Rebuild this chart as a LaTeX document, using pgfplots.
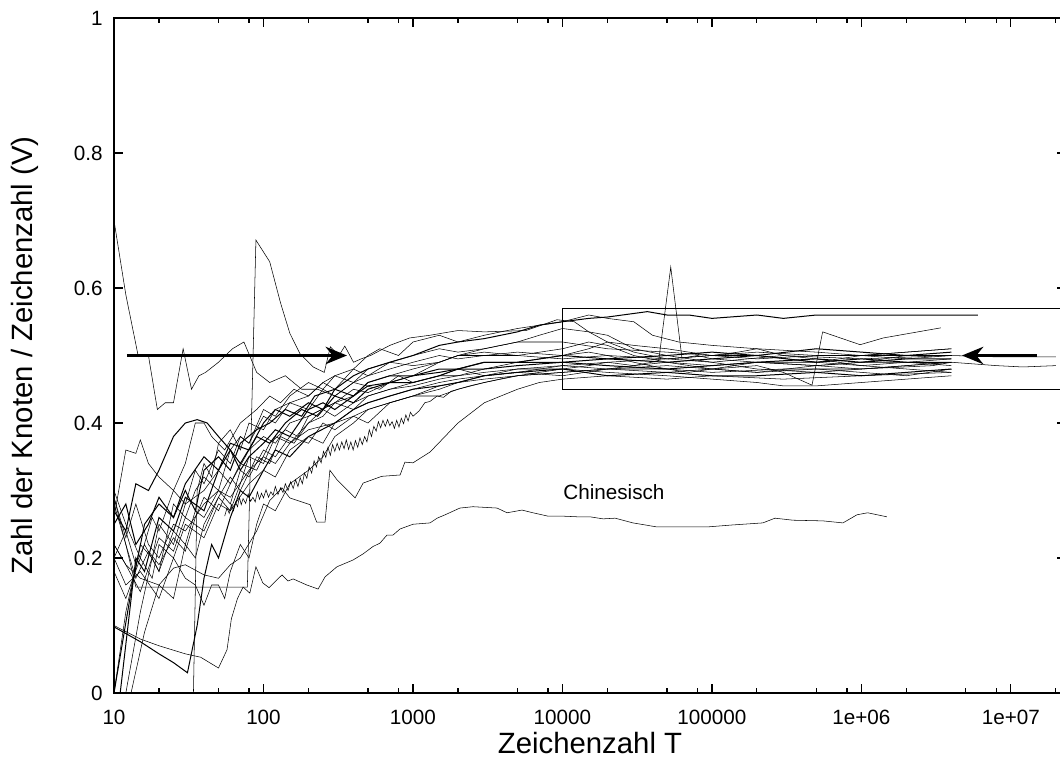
\documentclass[border=0pt]{standalone}
\usepackage{fontspec}
\setmainfont{Liberation Sans}
\usepackage{pgfplots}
\pgfplotsset{compat=1.18}
\usetikzlibrary{arrows.meta,calc}
\begin{document}
\begin{tikzpicture}
\begin{axis}[name=ax, at={(0,0)}, anchor=south west,
 scale only axis, width=714pt, height=506.25pt,
 xmode=log, xmin=10, xmax=2.335e7, ymin=0, ymax=1,
 xtick={10,100,1000,10000,100000,1000000,10000000},
 xticklabels={10,100,1000,10000,100000,1e+06,1e+07},
 minor xtick={20,50,80,200,500,800,2000,5000,8000,20000,50000,80000,200000,500000,800000,2000000,5000000,8000000,20000000},
 ytick={0,0.2,0.4,0.6,0.8,1},
 yticklabels={0,0.2,0.4,0.6,0.8,1},
 major tick length=7pt, minor tick length=3.5pt,
 tick style={black, line width=0.8pt},
 axis line style={line width=1pt},
 ticklabel style={font=\fontsize{15.5}{18}\selectfont},
 xticklabel style={yshift=-9pt},
 yticklabel style={xshift=-5pt},
 xlabel={Zeichenzahl T}, ylabel={Zahl der Knoten / Zeichenzahl (V)},
 label style={font=\fontsize{22}{26}\selectfont},
 xlabel style={at={(axis description cs:0.5,-0.074)}, anchor=center},
 ylabel style={at={(axis description cs:-0.0935,0.5)}, anchor=center},
 cycle list={{black,solid,line width=0.75pt,mark=none}},
]
% L1
\addplot coordinates {(10,0.70)(12,0.59)(14.5,0.50)(17,0.50)(19.5,0.42)(22,0.43)(25,0.43)(29,0.51)(33,0.45)(37,0.47)(41,0.475)(50,0.49)(62,0.51)(74,0.52)(90,0.475)(110,0.46)(140,0.47)(180,0.45)(230,0.45)(300,0.44)(400,0.46)(600,0.45)(800,0.47)(1000,0.46)(1500,0.47)(2000,0.48)(3000,0.47)(5000,0.475)(10000,0.47)(20000,0.48)(50000,0.48)(100000,0.475)(300000,0.48)(1000000,0.48)(3000000,0.485)(4000000,0.49)};
% L2 spike
\addplot coordinates {(10,0.29)(12,0.22)(14,0.157)(78,0.157)(89,0.671)(110,0.639)(130,0.578)(150,0.533)(175,0.503)(215,0.483)(255,0.475)(280,0.513)(320,0.50)(350,0.514)(400,0.49)(450,0.495)(520,0.50)(700,0.515)(950,0.526)(1300,0.53)(2000,0.537)(3000,0.535)(5700,0.537)(9200,0.553)(12000,0.55)(15000,0.535)(20000,0.52)(30000,0.505)(50000,0.495)(100000,0.50)(200000,0.50)(500000,0.49)(1000000,0.50)(4000000,0.50)};
% L3
\addplot coordinates {(10,0.27)(12,0.24)(14,0.31)(17,0.30)(20,0.33)(25,0.38)(30,0.40)(36,0.405)(42,0.40)(50,0.38)(60,0.36)(70,0.33)(80,0.35)(100,0.37)(120,0.39)(150,0.38)(200,0.42)(250,0.43)(300,0.42)(400,0.44)(500,0.455)(700,0.46)(1000,0.47)(1500,0.475)(2000,0.48)(3000,0.49)(5000,0.49)(10000,0.49)(20000,0.495)(50000,0.49)(100000,0.495)(200000,0.50)(500000,0.49)(1000000,0.495)(2000000,0.49)(4000000,0.49)};
% L4
\addplot coordinates {(10,0.22)(12,0.19)(15,0.17)(20,0.16)(25,0.185)(30,0.19)(40,0.175)(50,0.17)(60,0.19)(70,0.20)(90,0.24)(110,0.285)(133,0.304)(150,0.289)(205,0.279)(227,0.253)(258,0.253)(278,0.330)(310,0.316)(410,0.289)(464,0.311)(618,0.321)(820,0.323)(883,0.342)(1000,0.341)(1300,0.357)(2000,0.40)(3000,0.43)(5000,0.45)(7000,0.46)(10000,0.465)(20000,0.47)(50000,0.465)(100000,0.47)(300000,0.465)(1000000,0.47)(4000000,0.475)};
% L5 jagged
\addplot coordinates {(55,0.262)(57,0.274)(59,0.266)(61,0.279)(63,0.27)(65,0.283)(67,0.276)(69,0.29)(71,0.279)(73,0.288)(76,0.281)(79,0.295)(82,0.284)(85,0.29)(88,0.283)(91,0.298)(94,0.287)(97,0.296)(100,0.289)(104,0.301)(108,0.29)(112,0.298)(116,0.293)(120,0.306)(125,0.294)(130,0.304)(135,0.297)(140,0.31)(146,0.30)(152,0.313)(158,0.303)(164,0.316)(170,0.306)(176,0.319)(182,0.31)(188,0.326)(195,0.318)(202,0.335)(210,0.326)(218,0.344)(226,0.335)(234,0.35)(243,0.341)(252,0.358)(261,0.349)(270,0.364)(280,0.352)(290,0.368)(300,0.358)(311,0.37)(322,0.36)(334,0.372)(346,0.362)(358,0.375)(371,0.361)(384,0.372)(398,0.36)(412,0.374)(427,0.364)(442,0.378)(458,0.368)(475,0.38)(492,0.372)(510,0.39)(528,0.38)(547,0.395)(567,0.388)(587,0.402)(608,0.393)(630,0.404)(653,0.395)(676,0.405)(700,0.396)(725,0.402)(751,0.392)(778,0.404)(806,0.394)(835,0.407)(865,0.399)(896,0.412)(928,0.403)(961,0.416)(1000,0.41)(1100,0.418)(1200,0.43)(1300,0.432)(1450,0.44)(1600,0.438)(1800,0.447)(2000,0.45)(2400,0.455)(3000,0.46)(4000,0.466)(5000,0.47)(7000,0.475)(10000,0.48)(15000,0.485)(20000,0.49)(30000,0.485)(50000,0.49)(100000,0.485)(200000,0.49)(500000,0.485)(1000000,0.49)(2000000,0.49)(4000000,0.495)};
% L6
\addplot coordinates {(10,0)(12,0.12)(15,0.22)(18,0.20)(20,0.25)(25,0.22)(30,0.28)(40,0.30)(50,0.33)(60,0.31)(80,0.36)(100,0.38)(120,0.37)(150,0.40)(200,0.41)(300,0.43)(400,0.44)(500,0.46)(700,0.47)(1000,0.48)(1500,0.49)(2000,0.50)(3000,0.51)(5000,0.52)(7000,0.53)(10000,0.54)(15000,0.535)(20000,0.53)(30000,0.51)(50000,0.50)(100000,0.49)(200000,0.48)(500000,0.475)(1000000,0.48)(2000000,0.485)(4000000,0.49)};
% L7 top
\addplot coordinates {(10,0)(13,0.15)(16,0.25)(20,0.28)(25,0.26)(30,0.30)(35,0.27)(40,0.33)(50,0.35)(60,0.33)(70,0.37)(90,0.39)(110,0.40)(140,0.42)(180,0.41)(220,0.44)(300,0.45)(400,0.47)(500,0.48)(700,0.49)(1000,0.50)(1500,0.515)(2000,0.52)(3000,0.525)(5000,0.535)(7000,0.545)(10000,0.55)(15000,0.555)(20000,0.557)(37000,0.565)(50000,0.56)(70000,0.56)(100000,0.555)(200000,0.56)(300000,0.555)(500000,0.56)(1000000,0.56)(2000000,0.56)(6000000,0.56)};
% L8
\addplot coordinates {(10,0.30)(12,0.25)(15,0.20)(18,0.26)(20,0.24)(25,0.30)(30,0.28)(35,0.33)(40,0.31)(50,0.36)(60,0.34)(70,0.38)(80,0.37)(100,0.41)(120,0.40)(150,0.43)(200,0.44)(250,0.46)(300,0.45)(400,0.48)(500,0.50)(600,0.51)(800,0.50)(1000,0.52)(1500,0.53)(2000,0.52)(3000,0.53)(5000,0.54)(10000,0.55)(15000,0.56)(20000,0.555)(30000,0.55)(40000,0.53)(60000,0.52)(100000,0.515)(200000,0.51)(500000,0.505)(1000000,0.50)(2000000,0.505)(4000000,0.51)};
% L9
\addplot coordinates {(10,0.29)(12,0.23)(14,0.28)(17,0.22)(20,0.20)(25,0.25)(30,0.24)(40,0.28)(50,0.30)(60,0.29)(80,0.33)(100,0.35)(120,0.34)(150,0.37)(200,0.39)(300,0.40)(400,0.42)(500,0.43)(700,0.44)(1000,0.45)(1500,0.46)(2000,0.465)(3000,0.47)(5000,0.48)(10000,0.485)(20000,0.49)(50000,0.495)(100000,0.49)(300000,0.50)(1000000,0.495)(4000000,0.50)};
% L10
\addplot coordinates {(10,0.22)(12,0.19)(15,0.15)(20,0.23)(25,0.21)(30,0.26)(40,0.24)(50,0.29)(60,0.32)(70,0.30)(90,0.35)(110,0.34)(130,0.38)(160,0.37)(200,0.40)(250,0.41)(300,0.43)(400,0.42)(500,0.44)(700,0.45)(1000,0.46)(1500,0.47)(2000,0.47)(3000,0.48)(5000,0.49)(10000,0.50)(15000,0.505)(20000,0.50)(30000,0.49)(50000,0.48)(70000,0.475)(100000,0.48)(200000,0.485)(300000,0.475)(467000,0.456)(550000,0.535)(980000,0.516)(1400000,0.526)(3400000,0.541)};
% L11
\addplot coordinates {(10,0.25)(12,0.28)(14,0.22)(17,0.25)(20,0.29)(25,0.26)(30,0.31)(40,0.35)(50,0.33)(60,0.37)(80,0.36)(100,0.40)(120,0.42)(150,0.41)(200,0.43)(250,0.42)(300,0.45)(400,0.44)(500,0.46)(700,0.47)(1000,0.47)(1500,0.48)(2000,0.48)(3000,0.49)(5000,0.49)(10000,0.50)(20000,0.495)(50000,0.50)(100000,0.505)(200000,0.50)(500000,0.51)(1000000,0.505)(2000000,0.50)(4000000,0.505)};
% L12 long
\addplot coordinates {(10,0.20)(12,0.24)(14,0.19)(16,0.22)(20,0.18)(25,0.24)(30,0.22)(35,0.27)(40,0.26)(50,0.30)(60,0.28)(70,0.33)(80,0.32)(100,0.36)(120,0.35)(150,0.38)(200,0.37)(250,0.40)(300,0.39)(400,0.41)(500,0.42)(700,0.43)(1000,0.44)(1500,0.45)(2000,0.46)(3000,0.465)(5000,0.47)(10000,0.475)(20000,0.48)(50000,0.485)(100000,0.48)(200000,0.49)(500000,0.485)(1000000,0.49)(2000000,0.50)(4000000,0.50)(8000000,0.498)(20000000,0.498)};
% L13 spike 53000
\addplot coordinates {(10,0.18)(12,0.14)(15,0.20)(18,0.17)(20,0.22)(25,0.20)(30,0.25)(40,0.23)(50,0.28)(60,0.27)(80,0.31)(100,0.33)(120,0.32)(150,0.36)(200,0.38)(250,0.37)(300,0.40)(400,0.41)(500,0.40)(700,0.43)(1000,0.44)(1500,0.44)(2000,0.45)(3000,0.46)(5000,0.47)(10000,0.475)(20000,0.48)(30000,0.485)(44000,0.492)(53000,0.631)(63000,0.496)(80000,0.50)(100000,0.495)(200000,0.49)(500000,0.49)(1000000,0.485)(2000000,0.48)(4000000,0.475)};
% L14
\addplot coordinates {(10,0.28)(12,0.22)(14,0.17)(17,0.21)(20,0.19)(25,0.23)(30,0.21)(35,0.26)(40,0.29)(50,0.27)(60,0.31)(70,0.34)(90,0.33)(110,0.37)(140,0.39)(170,0.38)(200,0.41)(300,0.43)(400,0.45)(500,0.445)(700,0.46)(1000,0.47)(1500,0.49)(2000,0.50)(3000,0.505)(5000,0.50)(10000,0.51)(15000,0.52)(20000,0.515)(30000,0.50)(50000,0.49)(100000,0.48)(200000,0.475)(500000,0.48)(1000000,0.475)(2000000,0.47)(4000000,0.48)};
% L15
\addplot coordinates {(11,0)(14,0.20)(16,0.18)(20,0.26)(25,0.24)(30,0.29)(40,0.27)(50,0.33)(60,0.36)(70,0.34)(90,0.38)(110,0.37)(140,0.40)(180,0.42)(230,0.41)(300,0.44)(400,0.43)(500,0.45)(700,0.46)(1000,0.46)(1500,0.47)(2000,0.48)(3000,0.48)(5000,0.485)(10000,0.49)(20000,0.485)(50000,0.48)(100000,0.485)(200000,0.49)(500000,0.495)(1000000,0.49)(2000000,0.495)(4000000,0.495)};
% L16
\addplot coordinates {(12,0)(15,0.12)(18,0.20)(20,0.18)(25,0.28)(30,0.26)(35,0.30)(40,0.32)(50,0.30)(60,0.36)(70,0.38)(80,0.37)(100,0.42)(120,0.41)(150,0.44)(200,0.46)(250,0.45)(300,0.47)(400,0.48)(500,0.47)(700,0.49)(1000,0.50)(1500,0.51)(2000,0.505)(3000,0.51)(5000,0.52)(10000,0.52)(20000,0.51)(50000,0.505)(100000,0.50)(200000,0.505)(500000,0.50)(1000000,0.50)(2000000,0.505)(4000000,0.51)};
% L17
\addplot coordinates {(13,0)(16,0.09)(20,0.16)(25,0.14)(30,0.22)(35,0.20)(40,0.25)(50,0.29)(60,0.27)(70,0.31)(80,0.35)(100,0.34)(120,0.38)(150,0.37)(200,0.40)(250,0.42)(300,0.41)(400,0.43)(500,0.44)(700,0.45)(1000,0.455)(1500,0.465)(2000,0.47)(3000,0.475)(5000,0.48)(10000,0.48)(20000,0.475)(50000,0.47)(100000,0.465)(200000,0.46)(300000,0.455)(500000,0.455)(1000000,0.46)(2000000,0.465)(4000000,0.47)};
% L18
\addplot coordinates {(10,0.26)(12,0.36)(14,0.355)(15,0.375)(17,0.34)(20,0.32)(25,0.30)(30,0.34)(35,0.40)(40,0.40)(45,0.38)(55,0.36)(70,0.40)(90,0.42)(110,0.44)(130,0.43)(160,0.45)(200,0.44)(250,0.46)(300,0.47)(400,0.46)(500,0.48)(700,0.49)(1000,0.485)(1500,0.49)(2000,0.50)(3000,0.50)(5000,0.50)(10000,0.495)(20000,0.50)(50000,0.495)(100000,0.50)(200000,0.495)(500000,0.50)(1000000,0.50)(2000000,0.495)(4000000,0.50)};
% L19
\addplot coordinates {(10,0.098)(15,0.076)(20,0.058)(25,0.045)(31,0.030)(36,0.10)(40,0.17)(45,0.22)(50,0.20)(60,0.26)(70,0.30)(80,0.29)(100,0.33)(120,0.36)(150,0.35)(200,0.38)(300,0.40)(400,0.42)(500,0.43)(700,0.44)(1000,0.45)(1500,0.455)(2000,0.46)(3000,0.47)(5000,0.475)(10000,0.48)(20000,0.47)(50000,0.475)(100000,0.47)(200000,0.47)(500000,0.475)(1000000,0.47)(2000000,0.475)(4000000,0.48)};
% L20
\addplot coordinates {(34,0)(36,0.30)(40,0.34)(45,0.32)(50,0.37)(60,0.39)(70,0.36)(80,0.40)(100,0.39)(120,0.42)(150,0.43)(200,0.42)(250,0.45)(300,0.44)(400,0.46)(500,0.47)(700,0.48)(1000,0.49)(1500,0.50)(2000,0.495)(3000,0.50)(5000,0.505)(10000,0.50)(15000,0.51)(20000,0.52)(30000,0.515)(50000,0.51)(70000,0.505)(100000,0.50)(150000,0.505)(200000,0.51)(300000,0.50)(500000,0.495)(700000,0.49)(1000000,0.485)(2000000,0.49)(4000000,0.485)};
% L21 long
\addplot coordinates {(10,0.20)(12,0.16)(15,0.18)(20,0.14)(25,0.20)(30,0.17)(35,0.16)(40,0.13)(45,0.16)(50,0.16)(55,0.14)(60,0.18)(70,0.22)(80,0.20)(90,0.25)(100,0.28)(120,0.27)(150,0.31)(200,0.33)(250,0.35)(300,0.38)(400,0.40)(500,0.42)(700,0.43)(1000,0.44)(1500,0.455)(2000,0.46)(3000,0.47)(5000,0.475)(10000,0.485)(20000,0.48)(50000,0.475)(100000,0.48)(200000,0.475)(500000,0.485)(1000000,0.48)(2000000,0.485)(4000000,0.49)(8000000,0.485)(12000000,0.483)(20000000,0.485)};
% Chinesisch
\addplot coordinates {(10,0.10)(15,0.08)(20,0.07)(30,0.058)(38,0.053)(50,0.037)(57,0.064)(61,0.11)(67,0.14)(73,0.157)(81,0.148)(89,0.187)(99,0.163)(109,0.156)(133,0.175)(146,0.166)(158,0.169)(195,0.160)(232,0.154)(258,0.172)(310,0.187)(397,0.197)(463,0.206)(540,0.217)(601,0.222)(670,0.234)(735,0.234)(819,0.243)(1000,0.250)(1300,0.252)(1450,0.259)(1640,0.264)(2060,0.274)(2520,0.276)(3650,0.274)(4260,0.267)(5360,0.271)(6350,0.267)(8000,0.262)(10070,0.262)(12700,0.261)(15300,0.261)(18700,0.258)(22500,0.259)(29600,0.252)(42900,0.246)(92600,0.246)(138000,0.249)(219000,0.252)(264000,0.259)(348000,0.256)(552000,0.255)(752000,0.252)(933000,0.264)(1100000,0.267)(1480000,0.261)};
% rectangle and arrows
\draw[line width=0.9pt] (axis cs:10000,0.45) rectangle (axis cs:2.335e7,0.57);
\draw[line width=2.6pt, -{Stealth[length=16pt,width=13pt]}] (axis cs:12.2,0.5) -- (axis cs:362,0.5);
\draw[line width=2.6pt, -{Stealth[length=16pt,width=13pt]}] (axis cs:1.49e7,0.5) -- (axis cs:4.7e6,0.5);
\node[font=\fontsize{15.5}{18}\selectfont] at (axis cs:22100,0.298) {Chinesisch};
\end{axis}
\pgfresetboundingbox
\useasboundingbox (-85.5pt,-48.75pt) rectangle (709.5pt,519.75pt);
\end{tikzpicture}
\end{document}
